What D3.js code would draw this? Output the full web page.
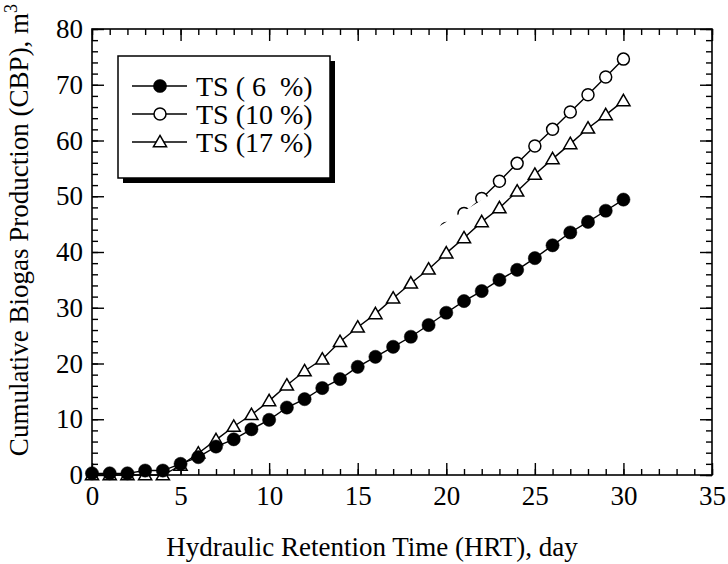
<!DOCTYPE html>
<html>
<head>
<meta charset="utf-8">
<script src="https://cdn.jsdelivr.net/npm/d3@7"></script>
<style>
  body { margin: 0; background: #fff; }
  text { font-family: "Liberation Serif", "Times New Roman", "Nimbus Roman", "Noto Serif", FreeSerif, "DejaVu Serif", serif; fill: #000; }
</style>
</head>
<body>
<div id="chart"></div>
<script>
// days on the x axis
const days = [0, 1, 2, 3, 4, 5, 6, 7, 8, 9, 10, 11, 12, 13, 14, 15, 16, 17, 18, 19, 20,
              21, 22, 23, 24, 25, 26, 27, 28, 29, 30];
// cumulative biogas, m3
const ts6 = [0.3, 0.3, 0.3, 0.8, 0.8, 2.0, 3.2, 5.1, 6.4, 8.2, 9.9, 12.1, 13.6, 15.6, 17.2, 19.4,
             21.2, 23.0, 24.8, 26.9, 29.1, 31.2, 33.0, 35.0, 36.8, 38.9, 41.2, 43.5, 45.4, 47.4, 49.4];
const ts17 = [0, 0, 0, 0, 0, 1.7, 3.9, 6.3, 8.7, 10.8, 13.3, 16.1, 18.65, 20.75, 23.9, 26.5,
              28.9, 31.7, 34.4, 36.9, 39.8, 42.5, 45.4, 47.9, 50.9, 53.9, 56.7, 59.4, 62.2, 64.6, 67.1];
// the 10 % series only shows from day 20 on
const ts10Days = [20, 21, 22, 23, 24, 25, 26, 27, 28, 29, 30];
const ts10 = [44.2, 46.9, 49.6, 52.7, 55.9, 59.0, 62.0, 65.1, 68.2, 71.4, 74.6];
// edge below which the 10 % points are hidden (day, m3)
const hideEdge = [[15, 35.54], [35, 74.94]];

const legendLabels = ["TS ( 6  %)", "TS (10 %)", "TS (17 %)"];
const xMajor = [0, 5, 10, 15, 20, 25, 30, 35];
const yMajor = [0, 10, 20, 30, 40, 50, 60, 70, 80];

const serif = '"Liberation Serif", "Times New Roman", "Nimbus Roman", "Noto Serif", FreeSerif, "DejaVu Serif", serif';

const width = 728, height = 564;
const margin = {top: 29, right: 16, bottom: 89, left: 92};
const innerW = width - margin.left - margin.right;
const innerH = height - margin.top - margin.bottom;

const svg = d3.select('#chart')
    .append('svg')
    .attr('width', width)
    .attr('height', height);

const g = svg.append('g')
    .attr('transform', `translate(${margin.left}, ${margin.top})`);

const x = d3.scaleLinear().domain([0, 35]).range([0, innerW]);
const y = d3.scaleLinear().domain([0, 80]).range([innerH, 0]);

const xMinor = d3.range(0, 36, 1);
const yMinor = d3.range(0, 81, 2);

//Axes, ticks pointing inward on all four sides
function styleAxis(sel, labels) {
    sel.attr('font-family', serif);
    sel.select('.domain').remove();
    sel.selectAll('line').attr('stroke', '#000').attr('stroke-width', 1.4);
    if (labels) {
        sel.selectAll('text').style('font-size', '27px').style('font-family', serif);
    } else {
        sel.selectAll('text').remove();
    }
}

g.append('g').attr('transform', `translate(0, ${innerH})`)
    .call(d3.axisBottom(x).tickValues(xMinor).tickSize(-6).tickFormat(''))
    .call(s => styleAxis(s, false));
g.append('g').attr('transform', `translate(0, ${innerH})`)
    .call(d3.axisBottom(x).tickValues(xMajor).tickSize(-12).tickPadding(11).tickFormat(d3.format('d')))
    .call(s => styleAxis(s, true));
g.append('g')
    .call(d3.axisTop(x).tickValues(xMinor).tickSize(-6).tickFormat(''))
    .call(s => styleAxis(s, false));
g.append('g')
    .call(d3.axisTop(x).tickValues(xMajor).tickSize(-12).tickFormat(''))
    .call(s => styleAxis(s, false));

g.append('g')
    .call(d3.axisLeft(y).tickValues(yMinor).tickSize(-6).tickFormat(''))
    .call(s => styleAxis(s, false));
g.append('g')
    .call(d3.axisLeft(y).tickValues(yMajor).tickSize(-12).tickPadding(9).tickFormat(d3.format('d')))
    .call(s => styleAxis(s, true));
g.append('g').attr('transform', `translate(${innerW}, 0)`)
    .call(d3.axisRight(y).tickValues(yMinor).tickSize(-6).tickFormat(''))
    .call(s => styleAxis(s, false));
g.append('g').attr('transform', `translate(${innerW}, 0)`)
    .call(d3.axisRight(y).tickValues(yMajor).tickSize(-12).tickFormat(''))
    .call(s => styleAxis(s, false));

//Frame
g.append('rect')
    .attr('width', innerW)
    .attr('height', innerH)
    .attr('fill', 'none')
    .attr('stroke', '#000')
    .attr('stroke-width', 1.6);

//Axis titles
svg.append('text')
    .attr('x', 372)
    .attr('y', 556)
    .attr('text-anchor', 'middle')
    .style('font-size', '27px')
    .text('Hydraulic Retention Time (HRT), day');

const yTitle = svg.append('text')
    .attr('transform', 'translate(28, 230) rotate(-90)')
    .attr('text-anchor', 'middle')
    .style('font-size', '27px');
yTitle.append('tspan').text('Cumulative Biogas Production (CBP), m');
yTitle.append('tspan').attr('dy', -11).style('font-size', '18px').text('3');

//Series
const line = d3.line().x(d => x(d[0])).y(d => y(d[1]));
const tri = d3.symbol().type(d3.symbolTriangle).size(75);

function drawSeries(parent, pts, marker) {
    parent.append('path')
        .attr('d', line(pts))
        .attr('fill', 'none')
        .attr('stroke', '#000')
        .attr('stroke-width', 1.4);
    const m = parent.selectAll(null)
        .data(pts)
        .enter();
    if (marker === 'triangle') {
        m.append('path')
            .attr('d', tri)
            .attr('transform', d => `translate(${x(d[0])}, ${y(d[1]) + 1})`)
            .attr('fill', '#fff')
            .attr('stroke', '#000')
            .attr('stroke-width', 1.5);
    } else {
        m.append('circle')
            .attr('cx', d => x(d[0]))
            .attr('cy', d => y(d[1]))
            .attr('r', marker === 'filled' ? 6.6 : 6)
            .attr('fill', marker === 'filled' ? '#000' : '#fff')
            .attr('stroke', '#000')
            .attr('stroke-width', marker === 'filled' ? 0.5 : 1.5);
    }
}

svg.append('clipPath').attr('id', 'hide10')
    .append('polygon')
    .attr('points', [hideEdge[0], hideEdge[1], [hideEdge[1][0], 90], [hideEdge[0][0], 90]]
        .map(p => `${x(p[0])},${y(p[1])}`).join(' '));

drawSeries(g.append('g'), days.map((d, i) => [d, ts17[i]]), 'triangle');
drawSeries(g.append('g').attr('clip-path', 'url(#hide10)'), ts10Days.map((d, i) => [d, ts10[i]]), 'open');
drawSeries(g.append('g'), days.map((d, i) => [d, ts6[i]]), 'filled');

//Legend with drop shadow
const legend = svg.append('g').attr('transform', 'translate(118, 56)');
legend.append('rect')
    .attr('x', 5).attr('y', 5)
    .attr('width', 212).attr('height', 122)
    .attr('fill', '#000');
legend.append('rect')
    .attr('width', 212).attr('height', 122)
    .attr('fill', '#fff')
    .attr('stroke', '#000')
    .attr('stroke-width', 1.5);

const markers = ['filled', 'open', 'triangle'];
legendLabels.forEach((lab, i) => {
    const row = legend.append('g').attr('transform', `translate(0, ${30 + i * 28})`);
    row.append('line')
        .attr('x1', 14).attr('x2', 69)
        .attr('stroke', '#000').attr('stroke-width', 1.4);
    if (markers[i] === 'triangle') {
        row.append('path').attr('d', tri).attr('transform', 'translate(42, 1)')
            .attr('fill', '#fff').attr('stroke', '#000').attr('stroke-width', 1.5);
    } else {
        row.append('circle').attr('cx', 42).attr('r', markers[i] === 'filled' ? 6.6 : 6)
            .attr('fill', markers[i] === 'filled' ? '#000' : '#fff')
            .attr('stroke', '#000').attr('stroke-width', markers[i] === 'filled' ? 0.5 : 1.5);
    }
    row.append('text')
        .attr('x', 78).attr('y', 10)
        .attr('xml:space', 'preserve')
        .style('white-space', 'pre')
        .style('font-size', '28px')
        .text(lab);
});
</script>
</body>
</html>
